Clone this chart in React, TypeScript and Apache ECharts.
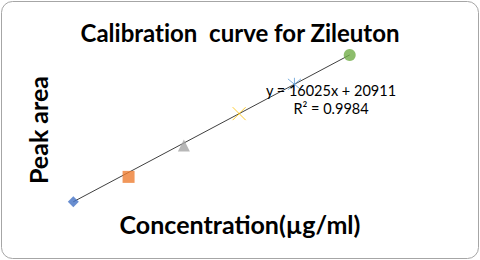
import React, { useEffect, useRef } from "react";
import * as echarts from "echarts";

const concentrations = [10, 20, 30, 40, 50, 60];
const peakAreas = [181000, 317000, 488000, 662000, 822000, 982000];
const slope = 16025;
const intercept = 20911;
const rSquared = "0.9984";
const markerColors = ["#4472C4", "#ED7D31", "#A5A5A5", "#FFC000", "#5B9BD5", "#70AD47"];
const titleText = "Calibration  curve for Zileuton";
const xTitle = "Concentration(µg/ml)";
const yTitle = "Peak area";

const xPath = "path://M0,0L10,10M10,0L0,10";
const starPath = "path://M0,0L10,10M10,0L0,10M5,-1L5,11";
const symbols = ["diamond", "rect", "triangle", xPath, starPath, "circle"];
const sizes = [11, 12, 12, 13, 13, 12];

export default function App() {
  const ref = useRef<HTMLDivElement>(null);
  useEffect(() => {
    document.body.style.margin = "0";
    const chart = echarts.init(ref.current!, null, { renderer: "svg" });
    const font = "Lato, 'Open Sans', sans-serif";
    const pointSeries = concentrations.map((c, i) => {
      const stroked = i === 3 || i === 4;
      return {
        type: "scatter",
        data: [[c, peakAreas[i]]],
        symbol: symbols[i],
        symbolSize: sizes[i],
        clip: false,
        z: 3,
        itemStyle: stroked
          ? { color: "rgba(0,0,0,0)", borderColor: markerColors[i], borderWidth: 1 }
          : { color: markerColors[i] },
      };
    });
    const xMin = Math.min(...concentrations);
    const xMax = Math.max(...concentrations);
    chart.setOption({
      animation: false,
      title: {
        text: titleText,
        left: "center",
        top: 15,
        textStyle: { fontFamily: font, fontWeight: "bold", fontSize: 24, color: "#000" },
      },
      grid: { left: 18, right: 75, top: 15, bottom: 25 },
      xAxis: { type: "value", min: 0, max: 70, show: false },
      yAxis: { type: "value", min: 0, max: 1200000, show: false },
      graphic: [
        {
          type: "rect",
          shape: { x: 1.5, y: 1.5, width: 477, height: 257, r: 11 },
          style: { fill: "none", stroke: "#a6a6a6", lineWidth: 1 },
          z: -1,
        },
        {
          type: "text",
          x: 240,
          y: 224,
          style: {
            text: xTitle,
            align: "center",
            verticalAlign: "middle",
            font: `bold 25px ${font}`,
            fill: "#000",
          },
        },
        {
          type: "text",
          x: 38,
          y: 130,
          rotation: Math.PI / 2,
          style: {
            text: yTitle,
            align: "center",
            verticalAlign: "middle",
            font: `bold 25px ${font}`,
            fill: "#000",
          },
        },
        {
          type: "text",
          x: 331,
          y: 90,
          z: 5,
          style: {
            text: `y = ${slope}x + ${intercept}`,
            align: "center",
            verticalAlign: "middle",
            font: `14.5px ${font}`,
            fill: "#000",
          },
        },
        {
          type: "text",
          x: 331,
          y: 108,
          z: 5,
          style: {
            text: `R² = ${rSquared}`,
            align: "center",
            verticalAlign: "middle",
            font: `14.5px ${font}`,
            fill: "#000",
          },
        },
      ],
      series: [
        {
          type: "line",
          data: [
            [xMin, slope * xMin + intercept],
            [xMax, slope * xMax + intercept],
          ],
          symbol: "none",
          clip: false,
          z: 2,
          lineStyle: { color: "#404040", width: 1 },
        },
        ...pointSeries,
      ],
    });
    return () => chart.dispose();
  }, []);
  return (
    <>
      <style>{"svg text { font-variant-ligatures: none; font-feature-settings: 'liga' 0, 'clig' 0; }"}</style>
      <div ref={ref} style={{ width: 480, height: 260 }} />
    </>
  );
}
